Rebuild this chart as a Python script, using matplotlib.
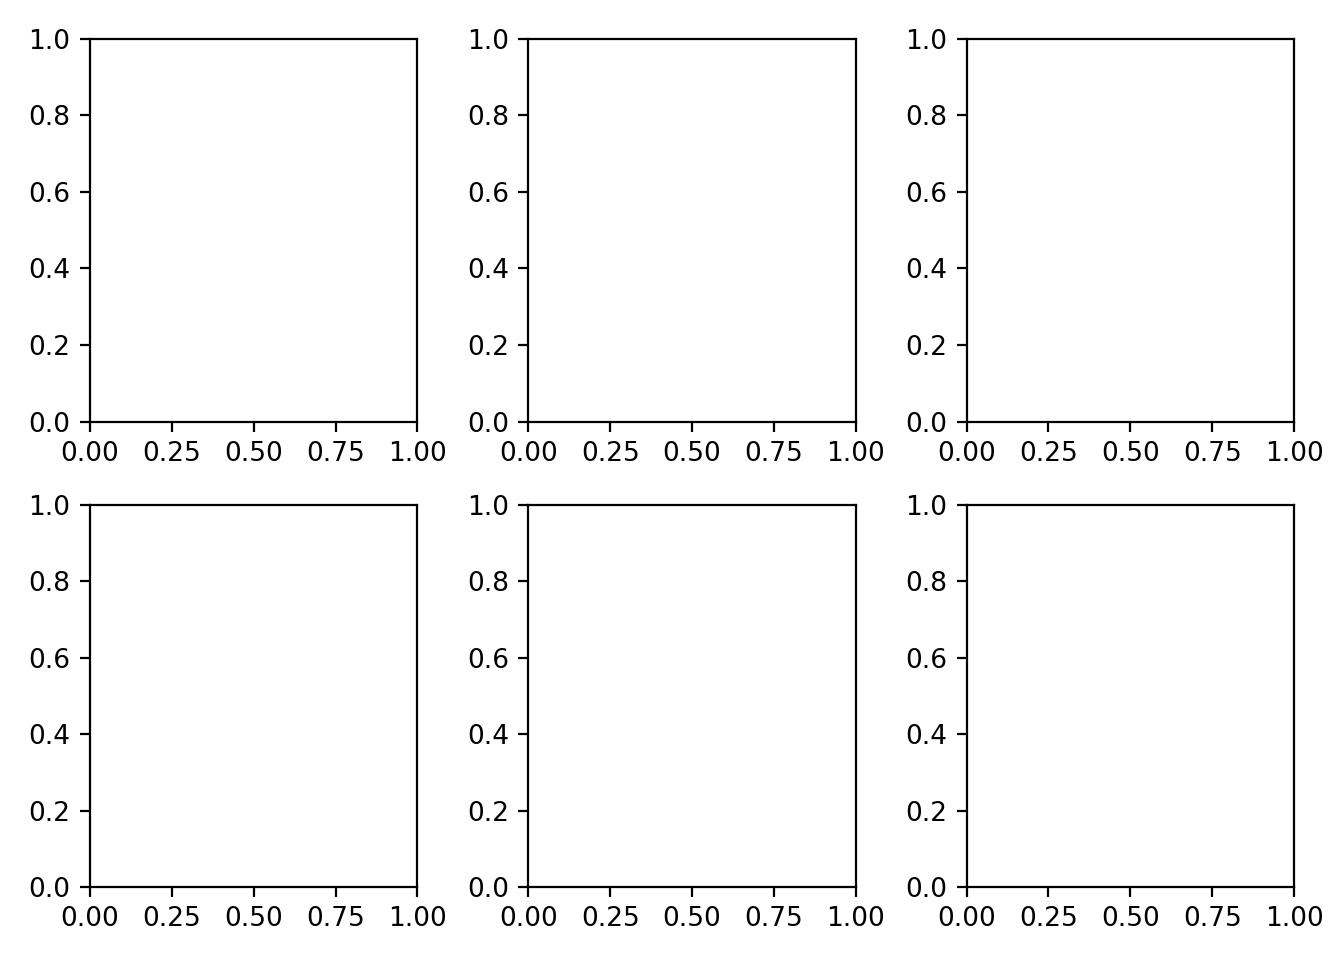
import matplotlib
matplotlib.use("Agg")
import matplotlib.pyplot as plt

# grid layout: 2 rows x 3 columns of empty axes
n_rows = 2
n_cols = 3
x_ticks = [0.0, 0.25, 0.5, 0.75, 1.0]
y_ticks = [0.0, 0.2, 0.4, 0.6, 0.8, 1.0]

plt.rcParams["font.size"] = 9.5

fig, axes = plt.subplots(n_rows, n_cols, figsize=(6.72, 4.8), dpi=200)
fig.subplots_adjust(left=0.067, right=0.9628, top=0.9594, bottom=0.076,
                    wspace=0.339, hspace=0.217)

for ax in axes.flat:
    ax.set_xticks(x_ticks)
    ax.set_yticks(y_ticks)
    ax.set_xlim(0, 1)
    ax.set_ylim(0, 1)

fig.savefig("out.png", dpi=200)
